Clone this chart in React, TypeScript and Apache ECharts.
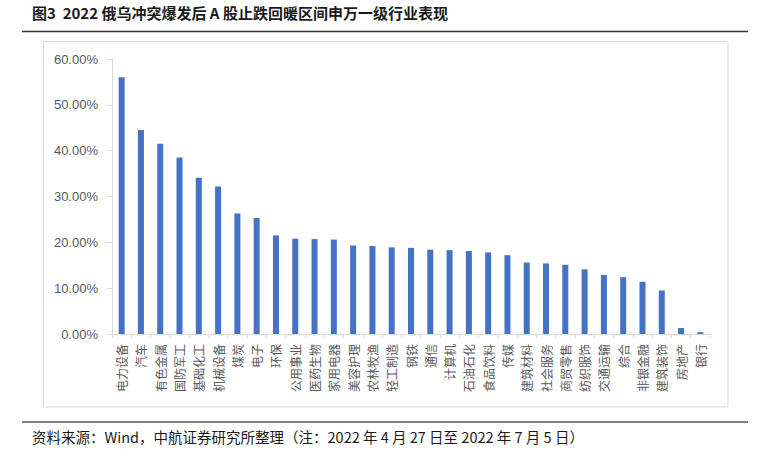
import React, { useEffect, useRef } from "react";
import * as echarts from "echarts";

const categories = [
  "电力设备", "汽车", "有色金属", "国防军工", "基础化工", "机械设备", "煤炭", "电子",
  "环保", "公用事业", "医药生物", "家用电器", "美容护理", "农林牧渔", "轻工制造", "钢铁",
  "通信", "计算机", "石油石化", "食品饮料", "传媒", "建筑材料", "社会服务", "商贸零售",
  "纺织服饰", "交通运输", "综合", "非银金融", "建筑装饰", "房地产", "银行",
];
const values = [
  56.0, 44.5, 41.5, 38.5, 34.1, 32.2, 26.3, 25.3,
  21.5, 20.8, 20.7, 20.6, 19.3, 19.2, 18.9, 18.8,
  18.4, 18.3, 18.1, 17.8, 17.2, 15.6, 15.4, 15.1,
  14.1, 12.9, 12.4, 11.4, 9.5, 1.3, 0.4,
];
const titleText = "图3  2022 俄乌冲突爆发后 A 股止跌回暖区间申万一级行业表现";
const footerText = "资料来源：Wind，中航证券研究所整理（注：2022 年 4 月 27 日至 2022 年 7 月 5 日）";

export default function App() {
  const ref = useRef<HTMLDivElement>(null);
  useEffect(() => {
    if (!ref.current) return;
    const chart = echarts.init(ref.current, undefined, { renderer: "svg" });
    chart.setOption({
      animation: false,
      backgroundColor: "#ffffff",
      grid: { left: 112, right: 54, top: 59, bottom: 126, containLabel: false },
      xAxis: {
        type: "category",
        data: categories,
        axisLine: { show: true, lineStyle: { color: "#d9d9d9", width: 1 } },
        axisTick: { show: true, length: 4, alignWithLabel: false, lineStyle: { color: "#d9d9d9" } },
        axisLabel: {
          interval: 0,
          rotate: 90,
          margin: 10,
          color: "#595959",
          fontSize: 12,
          fontFamily: "Noto Sans CJK SC",
        },
      },
      yAxis: {
        type: "value",
        min: 0,
        max: 60,
        interval: 10,
        splitLine: { show: false },
        axisLine: { show: true, lineStyle: { color: "#d9d9d9", width: 1 } },
        axisTick: { show: true, length: 5, lineStyle: { color: "#d9d9d9" } },
        axisLabel: {
          color: "#595959",
          fontSize: 13,
          margin: 14,
          fontFamily: "Liberation Sans",
          formatter: (v: number) => v.toFixed(2) + "%",
        },
      },
      series: [
        {
          type: "bar",
          data: values,
          barWidth: 6,
          itemStyle: { color: "#4472C4" },
        },
      ],
      graphic: [
        {
          type: "text",
          left: 32,
          top: 5,
          style: {
            text: titleText,
            fill: "#1a1a1a",
            font: "bold 15px 'Noto Sans CJK SC'",
          },
        },
        {
          type: "line",
          shape: { x1: 22, y1: 31.5, x2: 748, y2: 31.5 },
          style: { stroke: "#333333", lineWidth: 1.5 },
        },
        {
          type: "rect",
          shape: { x: 43.5, y: 41.5, width: 684.5, height: 365.5 },
          style: { fill: "none", stroke: "#d9d9d9", lineWidth: 1 },
        },
        {
          type: "line",
          shape: { x1: 22, y1: 422, x2: 748, y2: 422 },
          style: { stroke: "#555555", lineWidth: 1.5 },
        },
        {
          type: "text",
          left: 32,
          top: 429,
          style: {
            text: footerText,
            fill: "#1a1a1a",
            font: "14.5px 'Noto Sans CJK SC'",
          },
        },
      ],
    });
    return () => chart.dispose();
  }, []);
  return (
    <div
      ref={ref}
      style={{ position: "fixed", left: 0, top: 0, width: 764, height: 460, background: "#fff" }}
    />
  );
}
